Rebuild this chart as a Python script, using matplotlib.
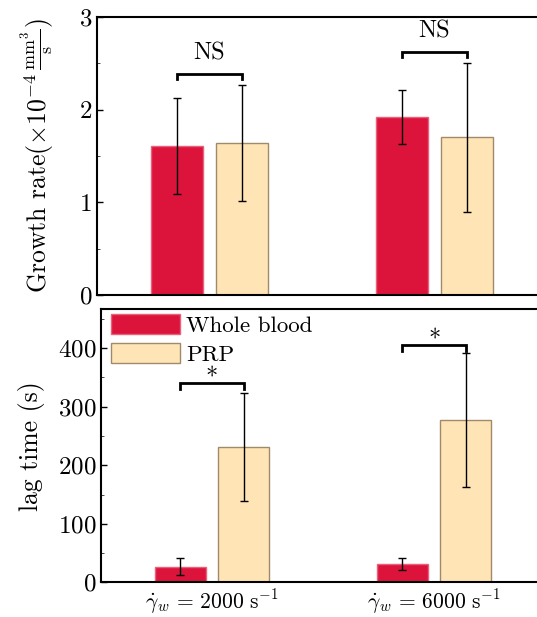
import numpy as np
import matplotlib
matplotlib.use("Agg")
import matplotlib.pyplot as plt

plt.rcParams["font.family"] = "serif"
plt.rcParams["font.serif"] = ["cmr10"]
plt.rcParams["mathtext.fontset"] = "cm"
plt.rcParams["axes.formatter.use_mathtext"] = True
plt.rcParams["font.size"] = 17

groups = [r"$\dot{\gamma}_w\,=\,2000\ \mathrm{s}^{-1}$", r"$\dot{\gamma}_w\,=\,6000\ \mathrm{s}^{-1}$"]
series = ["Whole blood", "PRP"]

growth_wb = [1.61, 1.92]
growth_wb_err = [0.52, 0.29]
growth_prp = [1.64, 1.70]
growth_prp_err = [0.63, 0.80]

lag_wb = [26.7, 30.8]
lag_wb_err = [15, 10]
lag_prp = [231, 277]
lag_prp_err = [92, 114]

growth_marks = ["NS", "NS"]
growth_bracket_y = [2.39, 2.62]
lag_marks = ["*", "*"]
lag_bracket_y = [340, 405]

red = "#DC143C"
beige = "#FFE4B5"
red_edge = "#E8607A"
beige_edge = "#A08A6A"

w = 0.23
off = 0.143
x = np.arange(len(groups))

fig = plt.figure(figsize=(5.37, 6.17), dpi=100)
ax1 = fig.add_axes([0.1806, 0.5219, 0.838, 0.4505])
ax2 = fig.add_axes([0.188, 0.0562, 0.827, 0.4430])


def draw(ax, wb, wb_err, prp, prp_err, marks, by, tick, text_gap, va):
    ax.bar(x - off, wb, w, color=red, edgecolor=red_edge, linewidth=1, label=series[0])
    ax.bar(x + off, prp, w, color=beige, edgecolor=beige_edge, linewidth=1, label=series[1])
    ax.errorbar(x - off, wb, yerr=wb_err, fmt="none", ecolor="black", elinewidth=1, capsize=3, capthick=1)
    ax.errorbar(x + off, prp, yerr=prp_err, fmt="none", ecolor="black", elinewidth=1, capsize=3, capthick=1)
    for i in range(len(groups)):
        ax.plot([x[i] - off, x[i] - off, x[i] + off, x[i] + off],
                [by[i] - tick, by[i], by[i], by[i] - tick], color="black", lw=2,
                solid_joinstyle="miter")
        ax.text(x[i], by[i] + text_gap, marks[i], ha="center", va=va, fontsize=17.5)
    ax.set_xlim(-0.5, 1.5)
    for s in ax.spines.values():
        s.set_linewidth(1.5)
    ax.spines["right"].set_visible(False)
    ax.tick_params(axis="y", direction="in", length=4, width=1, labelsize=18)
    ax.tick_params(axis="y", which="minor", direction="in", length=2, width=0.5)
    ax.tick_params(axis="x", length=0)


draw(ax1, growth_wb, growth_wb_err, growth_prp, growth_prp_err, growth_marks, growth_bracket_y, 0.055, 0.1, "bottom")
ax1.set_ylim(0, 3)
ax1.set_yticks([0, 1, 2, 3])
ax1.set_yticks([0.5, 1.5, 2.5], minor=True)
ax1.set_xticks([])
ax1.set_ylabel(r"Growth rate$(\times 10^{-4}\,\frac{\mathrm{mm}^3}{\mathrm{s}})$", fontsize=18.5, labelpad=16)

draw(ax2, lag_wb, lag_wb_err, lag_prp, lag_prp_err, lag_marks, lag_bracket_y, 9, -2, "baseline")
ax2.set_ylim(0, 467)
ax2.set_yticks([0, 100, 200, 300, 400])
ax2.set_yticks([50, 150, 250, 350, 450], minor=True)
ax2.set_xticks(x)
ax2.set_xticklabels(groups, fontsize=15.5)
ax2.set_ylabel("lag time (s)", fontsize=18.5, labelpad=9)
ax2.legend(loc="upper left", bbox_to_anchor=(0.012, 1.0), frameon=False, fontsize=16.5,
           handlelength=3.0, handleheight=1.0, borderaxespad=0.1, borderpad=0.1,
           labelspacing=0.3, handletextpad=0.3)

fig.savefig("out.png", dpi=100)
